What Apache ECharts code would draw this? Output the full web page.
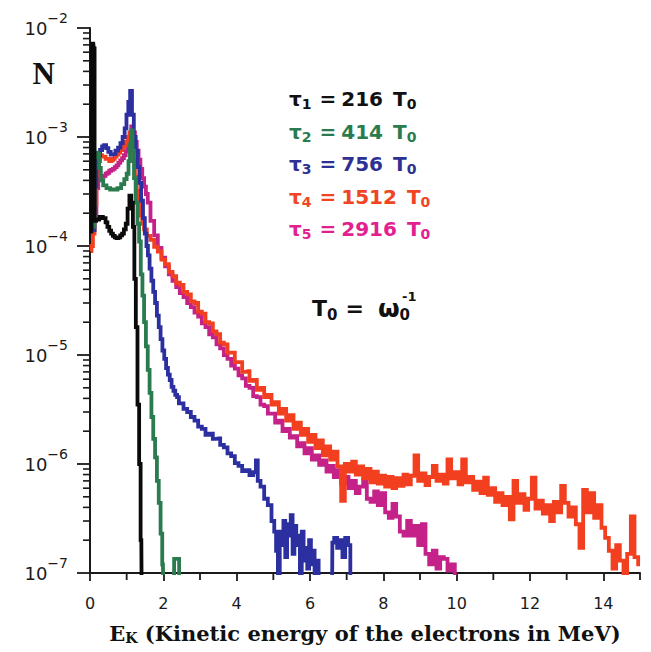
<!DOCTYPE html>
<html><head><meta charset="utf-8">
<script src="https://cdn.jsdelivr.net/npm/echarts@6/dist/echarts.min.js"></script>
<style>html,body{margin:0;padding:0;background:#fff}#c{width:651px;height:652px}</style>
</head><body><div id="c"></div>
<script>
// ---- data (E in MeV, N) ----
const seriesNames = ['tau1', 'tau2', 'tau3', 'tau4', 'tau5'];
const tauIndex = ['1', '2', '3', '4', '5'];
const tauValues = ['216', '414', '756', '1512', '2916'];

const tau1Data = [
[0.04,1.3e-4],[0.05,6.9e-3],[0.09,7.2e-3],[0.12,6.5e-3],[0.13,1.7e-4],
[0.20,1.75e-4],[0.30,1.85e-4],[0.40,1.8e-4],[0.45,1.65e-4],[0.50,1.5e-4],[0.55,1.38e-4],
[0.60,1.3e-4],[0.65,1.24e-4],[0.70,1.2e-4],[0.75,1.18e-4],[0.80,1.2e-4],[0.85,1.25e-4],
[0.90,1.3e-4],[0.95,1.42e-4],[1.00,1.6e-4],[1.05,2.2e-4],[1.10,2.9e-4],[1.15,2.5e-4],
[1.19,1.5e-4],[1.23,5e-5],[1.27,1.8e-5],[1.32,3.5e-6],[1.36,1.0e-6],[1.40,2.0e-7],[1.42,5e-8]
];

const tau2Data = [
[0.10,1.5e-4],[0.14,6.5e-4],[0.18,7.2e-4],[0.23,7.0e-4],[0.27,5.2e-4],[0.32,4.0e-4],
[0.40,3.6e-4],[0.50,3.4e-4],[0.60,3.3e-4],[0.70,3.3e-4],[0.80,3.4e-4],[0.90,3.7e-4],
[0.97,4.1e-4],[1.03,4.6e-4],[1.07,6.0e-4],[1.11,8.5e-4],[1.14,1.15e-3],[1.18,7.5e-4],
[1.22,4.2e-4],[1.27,2.5e-4],[1.32,1.6e-4],[1.36,1.1e-4],[1.41,5.5e-5],[1.45,3.5e-5],
[1.50,2.0e-5],[1.55,1.2e-5],[1.60,7.3e-6],[1.65,4.5e-6],[1.70,2.7e-6],[1.75,1.7e-6],
[1.80,1.15e-6],[1.85,7.0e-7],[1.90,4.4e-7],[1.95,2.3e-7],[1.99,1.2e-7],[2.01,5e-8],
[2.29,5e-8],[2.30,1.35e-7],[2.43,1.35e-7],[2.44,5e-8]
];

const tau3Data = [
[0.10,1.4e-4],[0.15,3.5e-4],[0.20,6.0e-4],[0.25,6.8e-4],[0.30,7.6e-4],[0.36,8.2e-4],
[0.41,8.4e-4],[0.47,7.9e-4],[0.53,7.3e-4],[0.60,6.9e-4],[0.66,7.0e-4],[0.73,7.5e-4],
[0.80,8.0e-4],[0.86,8.8e-4],[0.92,1.0e-3],[0.97,1.2e-3],[1.02,1.6e-3],[1.07,2.1e-3],
[1.12,2.65e-3],[1.17,1.6e-3],[1.22,1.0e-3],[1.27,7.5e-4],[1.32,5.3e-4],[1.37,3.8e-4],
[1.42,2.6e-4],[1.47,1.8e-4],[1.52,1.3e-4],[1.56,1.0e-4],[1.60,8.2e-5],[1.65,6.2e-5],
[1.70,4.8e-5],[1.75,3.8e-5],[1.80,3.0e-5],[1.85,2.3e-5],[1.90,1.8e-5],[1.95,1.4e-5],
[2.00,1.1e-5],[2.05,9.2e-6],[2.10,7.6e-6],[2.15,6.6e-6],[2.20,5.9e-6],[2.25,5.1e-6],
[2.30,4.7e-6],[2.35,4.3e-6],[2.40,4.1e-6],[2.45,3.6e-6],[2.50,3.6e-6],[2.60,3.2e-6],
[2.70,3.0e-6],[2.80,2.7e-6],[2.90,2.5e-6],[3.00,2.2e-6],[3.10,2.1e-6],[3.20,1.85e-6],
[3.30,1.9e-6],[3.40,1.7e-6],[3.50,1.72e-6],[3.60,1.5e-6],[3.70,1.42e-6],[3.80,1.25e-6],
[3.90,1.18e-6],[4.00,1.02e-6],[4.10,9.6e-7],[4.20,8.6e-7],[4.30,8.8e-7],[4.40,7.9e-7],
[4.50,8.4e-7],[4.55,1.08e-6],[4.60,7.0e-7],[4.70,6.2e-7],[4.80,4.8e-7],[4.90,4.2e-7],
[5.00,3.0e-7],[5.05,2.4e-7],[5.10,1.6e-7],[5.15,6e-8],[5.20,2.4e-7],[5.25,1.8e-7],
[5.30,3.0e-7],[5.35,1.4e-7],[5.40,2.8e-7],[5.45,2.2e-7],[5.50,3.4e-7],[5.55,1.5e-7],
[5.60,2.7e-7],[5.65,1.8e-7],[5.70,2.2e-7],[5.75,8e-8],[5.80,2.4e-7],[5.85,1.3e-7],
[5.90,1.7e-7],[5.95,1.1e-7],[6.00,2.0e-7],[6.05,1.2e-7],[6.10,1.6e-7],[6.15,1.0e-7],
[6.20,1.3e-7],[6.27,5e-8],[6.60,5e-8],[6.62,1.9e-7],[6.70,2.1e-7],[6.78,1.7e-7],
[6.85,2.0e-7],[6.92,1.4e-7],[7.00,2.1e-7],[7.08,1.8e-7],[7.12,5e-8]
];

const tau4Data = [
[0.02,9.0e-5],[0.06,1.0e-4],[0.10,1.3e-4],[0.15,2.4e-4],[0.20,4.4e-4],[0.25,6.0e-4],
[0.30,6.8e-4],[0.35,6.6e-4],[0.40,6.6e-4],[0.45,6.3e-4],[0.50,6.3e-4],[0.55,6.0e-4],
[0.60,6.1e-4],[0.65,6.3e-4],[0.70,6.6e-4],[0.75,6.9e-4],[0.80,7.2e-4],[0.85,7.6e-4],
[0.90,8.0e-4],[0.95,8.4e-4],[1.00,9.0e-4],[1.05,1.0e-3],[1.10,1.1e-3],[1.15,9.0e-4],
[1.20,6.0e-4],[1.25,4.3e-4],[1.30,3.2e-4],[1.35,2.4e-4],[1.40,1.9e-4],[1.45,1.6e-4],
[1.5,1.42e-4],[1.6,1.24e-4],[1.7,1.14e-4],[1.8,9.8e-5],[1.9,8.9e-5],[2.0,7.5e-5],
[2.1,6.8e-5],[2.2,5.8e-5],[2.3,5.3e-5],[2.4,4.6e-5],[2.5,4.4e-5],[2.6,3.8e-5],
[2.7,3.6e-5],[2.8,3.1e-5],[2.9,3.0e-5],[3.0,2.5e-5],[3.1,2.4e-5],[3.2,2.0e-5],
[3.3,1.95e-5],[3.4,1.65e-5],[3.5,1.55e-5],[3.6,1.3e-5],[3.7,1.25e-5],[3.8,1.05e-5],
[3.9,1.05e-5],[4.0,8.6e-6],[4.1,8.6e-6],[4.2,7.0e-6],[4.3,7.1e-6],[4.4,5.8e-6],
[4.5,5.9e-6],[4.6,4.8e-6],[4.7,5.0e-6],[4.8,4.1e-6],[4.9,4.3e-6],[5.0,3.5e-6],
[5.1,3.7e-6],[5.2,2.9e-6],[5.3,3.2e-6],[5.4,2.5e-6],[5.5,2.8e-6],[5.6,2.1e-6],
[5.7,2.4e-6],[5.8,1.85e-6],[5.9,2.1e-6],[6.0,1.6e-6],[6.1,1.85e-6],[6.2,1.4e-6],
[6.3,1.65e-6],[6.4,1.2e-6],[6.5,1.45e-6],[6.6,1.1e-6],[6.7,1.3e-6],[6.8,9.5e-7],
[6.9,4.6e-7],[7.0,1.0e-6],[7.1,8.5e-7],[7.2,1.05e-6],[7.3,8.0e-7],[7.4,9.5e-7],
[7.5,7.4e-7],[7.6,9.0e-7],[7.7,6.8e-7],[7.8,8.5e-7],[7.9,6.6e-7],[8.0,7.8e-7],
[8.1,6.2e-7],[8.2,7.6e-7],[8.3,6.0e-7],[8.4,7.4e-7],[8.5,6.3e-7],[8.6,8.0e-7],
[8.7,6.5e-7],[8.8,7.8e-7],[8.9,1.2e-6],[9.0,7.0e-7],[9.1,8.2e-7],[9.2,6.4e-7],
[9.3,7.6e-7],[9.4,9.6e-7],[9.5,7.0e-7],[9.6,8.0e-7],[9.7,6.6e-7],[9.8,1.1e-6],
[9.9,7.4e-7],[10.0,8.4e-7],[10.1,6.5e-7],[10.2,1.1e-6],[10.3,6.8e-7],[10.4,7.6e-7],
[10.5,5.8e-7],[10.6,6.9e-7],[10.7,5.4e-7],[10.8,7.5e-7],[10.9,5.2e-7],[11.0,6.0e-7],
[11.1,4.5e-7],[11.2,5.4e-7],[11.3,4.2e-7],[11.4,5.0e-7],[11.5,3.1e-7],[11.6,7.0e-7],
[11.7,4.4e-7],[11.8,5.3e-7],[11.9,3.8e-7],[12.0,4.8e-7],[12.1,7.5e-7],[12.2,3.9e-7],
[12.3,4.6e-7],[12.4,3.5e-7],[12.5,4.2e-7],[12.6,3.0e-7],[12.7,4.5e-7],[12.8,3.6e-7],
[12.9,6.3e-7],[13.0,4.4e-7],[13.1,3.3e-7],[13.2,4.0e-7],[13.3,2.8e-7],[13.4,1.7e-7],
[13.5,5.8e-7],[13.6,3.6e-7],[13.7,5.4e-7],[13.8,3.2e-7],[13.9,4.2e-7],[14.0,2.6e-7],
[14.1,2.1e-7],[14.2,1.6e-7],[14.3,1.1e-7],[14.4,1.8e-7],[14.5,1.3e-7],[14.6,8e-8],
[14.7,1.5e-7],[14.8,3.3e-7],[14.9,1.4e-7],[15.0,1.2e-7]
];

const tau5Data = [
[0.15,2.0e-4],[0.20,3.4e-4],[0.25,4.1e-4],[0.30,4.4e-4],[0.35,4.3e-4],[0.40,4.4e-4],
[0.45,4.6e-4],[0.50,4.7e-4],[0.55,4.9e-4],[0.60,5.0e-4],[0.65,5.1e-4],[0.70,5.3e-4],
[0.75,5.5e-4],[0.80,5.8e-4],[0.85,6.1e-4],[0.90,6.4e-4],[0.95,6.8e-4],[1.00,7.4e-4],
[1.05,8.3e-4],[1.10,1.0e-3],[1.15,1.25e-3],[1.20,1.1e-3],[1.25,9.0e-4],[1.30,7.5e-4],
[1.35,6.2e-4],[1.40,5.1e-4],[1.45,4.2e-4],[1.50,3.5e-4],[1.55,3.0e-4],[1.60,2.5e-4],
[1.70,1.7e-4],[1.80,1.25e-4],[1.90,9.6e-5],[2.00,7.8e-5],[2.1,6.5e-5],[2.2,5.5e-5],
[2.3,4.8e-5],[2.4,4.2e-5],[2.5,3.7e-5],[2.6,3.4e-5],[2.7,3.0e-5],[2.8,2.75e-5],
[2.9,2.45e-5],[3.0,2.25e-5],[3.1,1.95e-5],[3.2,1.8e-5],[3.3,1.55e-5],[3.4,1.45e-5],
[3.5,1.25e-5],[3.6,1.15e-5],[3.7,1.0e-5],[3.8,9.2e-6],[3.9,8.0e-6],[4.0,7.5e-6],
[4.1,6.5e-6],[4.2,6.1e-6],[4.3,5.2e-6],[4.4,5.0e-6],[4.5,4.2e-6],[4.6,4.1e-6],
[4.7,3.5e-6],[4.8,3.4e-6],[4.9,2.9e-6],[5.0,2.9e-6],[5.1,2.4e-6],[5.2,2.5e-6],
[5.3,2.0e-6],[5.4,2.1e-6],[5.5,1.75e-6],[5.6,1.8e-6],[5.7,1.45e-6],[5.8,1.55e-6],
[5.9,1.25e-6],[6.0,1.4e-6],[6.1,1.1e-6],[6.2,1.2e-6],[6.3,9.8e-7],[6.4,1.08e-6],
[6.5,8.5e-7],[6.6,9.6e-7],[6.7,7.6e-7],[6.8,8.8e-7],[6.9,6.6e-7],[7.0,7.6e-7],
[7.1,6.0e-7],[7.2,7.0e-7],[7.3,5.4e-7],[7.4,6.2e-7],[7.5,7.2e-7],[7.6,4.8e-7],
[7.7,4.5e-7],[7.8,5.6e-7],[7.9,4.2e-7],[8.0,5.4e-7],[8.1,3.6e-7],[8.2,3.2e-7],
[8.3,4.3e-7],[8.4,3.3e-7],[8.5,2.4e-7],[8.6,2.2e-7],[8.7,3.0e-7],[8.8,2.2e-7],
[8.9,2.7e-7],[9.0,1.8e-7],[9.1,2.8e-7],[9.2,1.5e-7],[9.3,1.2e-7],[9.4,1.6e-7],
[9.5,1.1e-7],[9.6,1.4e-7],[9.7,1.35e-7],[9.8,1.05e-7],[9.9,1.2e-7],[10.0,8e-8]
];

const xMin = 0, xMax = 15, xStep = 2;
const xMinorTickValues = [1, 3, 5, 7, 9, 11, 13, 15];
const yMin = 1e-7, yMax = 1e-2;
const yMinorMantissas = [2, 3, 4, 5, 6, 7, 8, 9];
const yDecades = [-7, -6, -5, -4, -3];

// ---- styles ----
const lineColors = { tau1: '#0a0a0a', tau2: '#2a7c4e', tau3: '#2b2fa0', tau4: '#f23f1f', tau5: '#c42189' };
const textColors = { tau1: '#111111', tau2: '#2a7c4e', tau3: '#2e3193', tau4: '#f04423', tau5: '#e3208f' };
const dataMap = { tau1: tau1Data, tau2: tau2Data, tau3: tau3Data, tau4: tau4Data, tau5: tau5Data };
const drawOrder = ['tau5', 'tau4', 'tau3', 'tau2', 'tau1'];
const axisColor = '#1a1a1a';

const yMinorTicks = [];
yDecades.forEach(d => yMinorMantissas.forEach(m => yMinorTicks.push([xMin, m * Math.pow(10, d)])));
const xMinorTicks = xMinorTickValues.map(v => [v, yMin]);

const chart = echarts.init(document.getElementById('c'), null, { renderer: 'svg' });

const sans = 'DejaVu Sans';
const serif = 'DejaVu Serif';

const lineSeries = drawOrder.map(n => ({
  name: n, type: 'line', data: dataMap[n],
  showSymbol: false, symbol: 'none', clip: true, step: 'middle',
  lineStyle: { color: lineColors[n], width: 3.8, join: 'miter' },
  itemStyle: { color: lineColors[n] },
  emphasis: { disabled: true }
}));

// minor tick marks, placed through the axis scales
function tickRenderer(dx1, dy1, dx2, dy2, w) {
  return function (params, api) {
    const p = api.coord([api.value(0), api.value(1)]);
    return { type: 'line', silent: true,
      shape: { x1: p[0] + dx1, y1: p[1] + dy1, x2: p[0] + dx2, y2: p[1] + dy2 },
      style: { stroke: axisColor, lineWidth: w, fill: null } };
  };
}
const tickSeries = [
  { name: 'yMinorTicks', type: 'custom', data: yMinorTicks, clip: false, silent: true, z: 10,
    encode: { x: 0, y: 1 }, renderItem: tickRenderer(-7, 0, 0, 0, 1.6) },
  { name: 'xMinorTicks', type: 'custom', data: xMinorTicks, clip: false, silent: true, z: 10,
    encode: { x: 0, y: 1 }, renderItem: tickRenderer(0, 0, 0, 7, 1.8) }
];

chart.setOption({
  animation: false,
  backgroundColor: '#fff',
  grid: { left: 90, right: 11, top: 28, bottom: 79, containLabel: false },
  legend: {
    data: seriesNames.map(n => ({ name: n, textStyle: { color: textColors[n] } })),
    orient: 'vertical',
    left: 283, top: 87, padding: 0,
    itemWidth: 0, itemHeight: 0, itemGap: 8.5,
    selectedMode: false,
    formatter: function (name) {
      const i = seriesNames.indexOf(name);
      return '{t|\u03c4}{s|' + tauIndex[i] + '}{e|=}{v|' + tauValues[i] + '}{t|T}{s|0}';
    },
    textStyle: {
      rich: {
        t: { fontFamily: sans, fontWeight: 'bold', fontSize: 20, lineHeight: 26 },
        v: { fontFamily: sans, fontWeight: 'bold', fontSize: 20, lineHeight: 26, padding: [0, 10, 0, 0] },
        e: { fontFamily: sans, fontWeight: 'bold', fontSize: 20, lineHeight: 26, padding: [0, 5, 0, 8] },
        s: { fontFamily: sans, fontWeight: 'bold', fontSize: 14, lineHeight: 26, padding: [10, 0, 0, 0] }
      }
    }
  },
  xAxis: {
    type: 'value', min: xMin, max: xMax, interval: xStep,
    axisLine: { lineStyle: { color: axisColor, width: 2 } },
    axisTick: { show: true, length: 8, lineStyle: { color: axisColor, width: 1.8 } },
    splitLine: { show: false },
    axisLabel: { fontFamily: sans, fontSize: 16, color: axisColor, margin: 22, showMaxLabel: false },
    name: '{n|E}{k|K}{n| (Kinetic energy of the electrons in MeV)}',
    nameLocation: 'middle', nameGap: 48,
    nameTextStyle: {
      rich: {
        n: { fontFamily: serif, fontWeight: 'bold', fontSize: 21, color: '#111' },
        k: { fontFamily: serif, fontWeight: 'bold', fontSize: 14, color: '#111', padding: [10, 0, 0, 0] }
      }
    }
  },
  yAxis: {
    type: 'log', logBase: 10, min: yMin, max: yMax, interval: 1,
    axisLine: { lineStyle: { color: axisColor, width: 2 } },
    axisTick: { show: true, length: 13, lineStyle: { color: axisColor, width: 1.8 } },
    splitLine: { show: false },
    axisLabel: {
      margin: 22,
      formatter: function (v) {
        const e = Math.round(Math.log10(v));
        return '{b|10}{s|\u2212' + (-e) + '}';
      },
      rich: {
        b: { fontFamily: sans, fontSize: 18, color: axisColor },
        s: { fontFamily: sans, fontSize: 14, color: axisColor, padding: [0, 0, 20, 0] }
      }
    },
    name: 'N', nameLocation: 'end', nameGap: -45,
    nameTextStyle: { fontFamily: 'Liberation Serif', fontWeight: 'bold', fontSize: 31, color: '#111',
      align: 'right', verticalAlign: 'middle', padding: [0, 35, 0, 0] }
  },
  graphic: [
    { type: 'text', left: 312, top: 295, silent: true,
      style: {
        text: '{m|T}{s|0}{e|=}{w|\u03c9}{s|0}',
        rich: {
          m: { fontFamily: sans, fontWeight: 'bold', fontSize: 22, fill: '#111', lineHeight: 28 },
          w: { fontFamily: sans, fontWeight: 'bold', fontSize: 25, fill: '#111', lineHeight: 28 },
          e: { fontFamily: sans, fontWeight: 'bold', fontSize: 22, fill: '#111', lineHeight: 28, padding: [0, 14, 0, 8] },
          s: { fontFamily: sans, fontWeight: 'bold', fontSize: 15, fill: '#111', lineHeight: 28, padding: [12, 0, 0, 0] }
        }
      } },
    { type: 'text', left: 402, top: 290, silent: true,
      style: { text: '-1', fontFamily: sans, fontWeight: 'bold', fontSize: 13, fill: '#111' } }
  ],
  series: tickSeries.concat(lineSeries)
});
</script>
</body></html>
